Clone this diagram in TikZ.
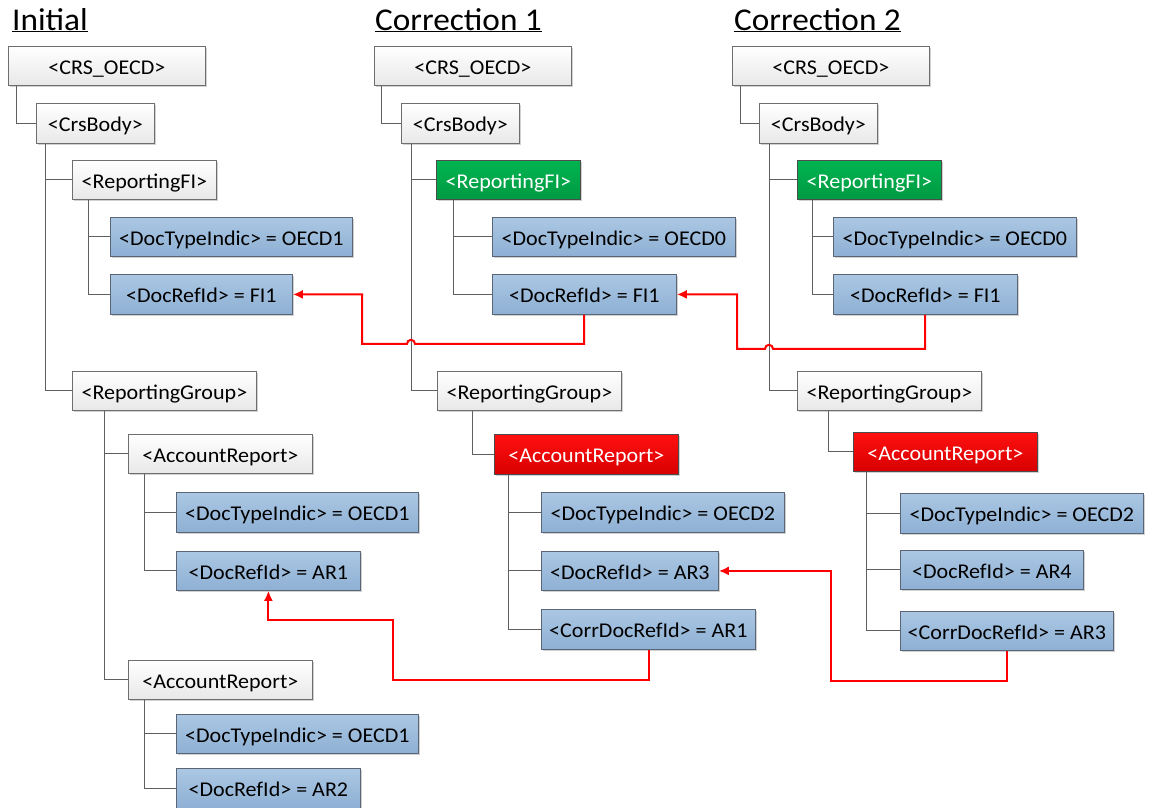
\documentclass[tikz,border=0pt]{standalone}
\usepackage{fontspec}
\setmainfont{Carlito}[FakeStretch=1.05]
\usetikzlibrary{calc,arrows.meta,shadows}
\definecolor{bxborder}{HTML}{6E6E6E}
\definecolor{bluetop}{HTML}{ABC7E3}
\definecolor{bluebot}{HTML}{8EB0D4}
\definecolor{bluebd}{HTML}{5A6675}
\definecolor{greentop}{HTML}{00B450}
\definecolor{greenbot}{HTML}{009A42}
\definecolor{redtop}{HTML}{FF1010}
\definecolor{redbot}{HTML}{D80000}
\definecolor{treeline}{HTML}{5F5F5F}
\definecolor{arrred}{HTML}{FF0000}
\tikzset{
  x=1pt, y=-1pt,
  box/.style={draw, line width=0.8pt, anchor=north west, inner sep=0pt,
    font=\fontsize{21}{23}\selectfont, text height=17pt, text depth=0.6pt,
    drop shadow={shadow xshift=2pt, shadow yshift=-2pt, fill=black, opacity=0.18}},
  wbox/.style={box, draw=bxborder, top color=white, bottom color=black!9},
  bbox/.style={box, draw=bluebd, top color=bluetop, bottom color=bluebot},
  gbox/.style={box, draw=black!70, top color=greentop, bottom color=greenbot, text=white},
  rbox/.style={box, draw=black!70, top color=redtop, bottom color=redbot, text=white},
  tree/.style={draw=treeline, line width=0.9pt},
  ref/.style={draw=arrred, line width=2pt, -{Latex[length=10pt,width=9pt]}},
  ttl/.style={anchor=base west, inner sep=0pt, font=\fontsize{31.7}{34}\selectfont}
}
\begin{document}
\begin{tikzpicture}
\useasboundingbox[fill=white] (0,0) rectangle (1152,807);
% titles
\node[ttl] (tinit) at (12,30) {\underline{Initial}};
\node[ttl] (tc1) at (375,30) {\underline{Correction 1}};
\node[ttl] (tc2) at (734,30) {\underline{Correction 2}};
% ---------- Initial
\node[wbox, minimum width=197pt, minimum height=39pt] (icrs) at (8,46) {<CRS\_OECD>};
\node[wbox, minimum width=118pt, minimum height=40pt] (ibody) at (36,103) {<CrsBody>};
\node[wbox, minimum width=144pt, minimum height=39pt] (ifi) at (72,160) {<ReportingFI>};
\node[bbox, minimum width=242pt, minimum height=39pt] (idt) at (110,217) {<DocTypeIndic> = OECD1};
\node[bbox, minimum width=182pt, minimum height=40pt] (idr) at (110,274) {<DocRefId> = FI1};
\node[wbox, minimum width=184pt, minimum height=39pt] (irg) at (72,371) {<ReportingGroup>};
\node[wbox, minimum width=184pt, minimum height=39pt] (iar1) at (128,434) {<AccountReport>};
\node[bbox, minimum width=242pt, minimum height=40pt] (iar1dt) at (176,492) {<DocTypeIndic> = OECD1};
\node[bbox, minimum width=184pt, minimum height=39pt] (iar1dr) at (176,551) {<DocRefId> = AR1};
\node[wbox, minimum width=184pt, minimum height=39pt] (iar2) at (128,660) {<AccountReport>};
\node[bbox, minimum width=242pt, minimum height=39pt] (iar2dt) at (176,714) {<DocTypeIndic> = OECD1};
\node[bbox, minimum width=184pt, minimum height=40pt] (iar2dr) at (176,768) {<DocRefId> = AR2};
% ---------- Correction 1
\node[wbox, minimum width=197pt, minimum height=39pt] (acrs) at (374,46) {<CRS\_OECD>};
\node[wbox, minimum width=118pt, minimum height=40pt] (abody) at (401,103) {<CrsBody>};
\node[gbox, minimum width=144pt, minimum height=39pt] (afi) at (436,160) {<ReportingFI>};
\node[bbox, minimum width=243pt, minimum height=39pt] (adt) at (492,217) {<DocTypeIndic> = OECD0};
\node[bbox, minimum width=184pt, minimum height=40pt] (adr) at (492,274) {<DocRefId> = FI1};
\node[wbox, minimum width=184pt, minimum height=39pt] (arg) at (437,371) {<ReportingGroup>};
\node[rbox, minimum width=184pt, minimum height=40pt] (aar) at (494,434) {<AccountReport>};
\node[bbox, minimum width=243pt, minimum height=40pt] (aardt) at (541,492) {<DocTypeIndic> = OECD2};
\node[bbox, minimum width=177pt, minimum height=39pt] (aardr) at (541,551) {<DocRefId> = AR3};
\node[bbox, minimum width=214pt, minimum height=40pt] (aarcr) at (541,609) {<CorrDocRefId> = AR1};
% ---------- Correction 2
\node[wbox, minimum width=197pt, minimum height=39pt] (bcrs) at (732,46) {<CRS\_OECD>};
\node[wbox, minimum width=118pt, minimum height=40pt] (bbody) at (759,103) {<CrsBody>};
\node[gbox, minimum width=144pt, minimum height=39pt] (bfi) at (797,160) {<ReportingFI>};
\node[bbox, minimum width=243pt, minimum height=39pt] (bdt) at (833,217) {<DocTypeIndic> = OECD0};
\node[bbox, minimum width=184pt, minimum height=40pt] (bdr) at (833,274) {<DocRefId> = FI1};
\node[wbox, minimum width=184pt, minimum height=39pt] (brg) at (797,371) {<ReportingGroup>};
\node[rbox, minimum width=184pt, minimum height=39pt] (bar) at (853,432) {<AccountReport>};
\node[bbox, minimum width=243pt, minimum height=40pt] (bardt) at (900,493) {<DocTypeIndic> = OECD2};
\node[bbox, minimum width=183pt, minimum height=39pt] (bardr) at (900,550) {<DocRefId> = AR4};
\node[bbox, minimum width=213pt, minimum height=39pt] (barcr) at (900,611) {<CorrDocRefId> = AR3};
% ---------- tree lines
\draw[tree] ($(icrs.south west)+(8,0)$) |- (ibody.west);
\draw[tree] ($(ibody.south west)+(9,0)$) |- (ifi.west);
\draw[tree] ($(ibody.south west)+(9,0)$) |- (irg.west);
\draw[tree] ($(ifi.south west)+(16,0)$) |- (idt.west);
\draw[tree] ($(ifi.south west)+(16,0)$) |- (idr.west);
\draw[tree] ($(irg.south west)+(32,0)$) |- (iar1.west);
\draw[tree] ($(irg.south west)+(32,0)$) |- (iar2.west);
\draw[tree] ($(iar1.south west)+(16,0)$) |- (iar1dt.west);
\draw[tree] ($(iar1.south west)+(16,0)$) |- (iar1dr.west);
\draw[tree] ($(iar2.south west)+(16,0)$) |- (iar2dt.west);
\draw[tree] ($(iar2.south west)+(16,0)$) |- (iar2dr.west);
\draw[tree] ($(acrs.south west)+(7,0)$) |- (abody.west);
\draw[tree] ($(abody.south west)+(10,0)$) |- (afi.west);
\draw[tree] ($(abody.south west)+(10,0)$) |- (arg.west);
\draw[tree] ($(afi.south west)+(17,0)$) |- (adt.west);
\draw[tree] ($(afi.south west)+(17,0)$) |- (adr.west);
\draw[tree] ($(arg.south west)+(35,0)$) |- (aar.west);
\draw[tree] ($(aar.south west)+(14,0)$) |- (aardt.west);
\draw[tree] ($(aar.south west)+(14,0)$) |- (aardr.west);
\draw[tree] ($(aar.south west)+(14,0)$) |- (aarcr.west);
\draw[tree] ($(bcrs.south west)+(8,0)$) |- (bbody.west);
\draw[tree] ($(bbody.south west)+(10,0)$) |- (bfi.west);
\draw[tree] ($(bbody.south west)+(10,0)$) |- (brg.west);
\draw[tree] ($(bfi.south west)+(15,0)$) |- (bdt.west);
\draw[tree] ($(bfi.south west)+(15,0)$) |- (bdr.west);
\draw[tree] ($(brg.south west)+(31,0)$) |- (bar.west);
\draw[tree] ($(bar.south west)+(13,0)$) |- (bardt.west);
\draw[tree] ($(bar.south west)+(13,0)$) |- (bardr.west);
\draw[tree] ($(bar.south west)+(13,0)$) |- (barcr.west);
% ---------- reference arrows
\draw[ref] ($(adr.south west)+(92,0)$) -- ++(0,29) -- ++(-169,0) arc (0:-180:4) -- ++(-45,0) |- (idr.east);
\draw[ref] ($(bdr.south west)+(92,0)$) -- ++(0,34) -- ++(-152,0) arc (0:-180:4) -- ++(-28,0) |- (adr.east);
\draw[ref] ($(aarcr.south west)+(108,0)$) -- ++(0,30) -- ++(-256,0) -- ++(0,-60) -| (iar1dr.south);
\draw[ref] ($(barcr.south west)+(107,0)$) -- ++(0,30) -- ++(-176,0) |- (aardr.east);
\end{tikzpicture}
\end{document}
